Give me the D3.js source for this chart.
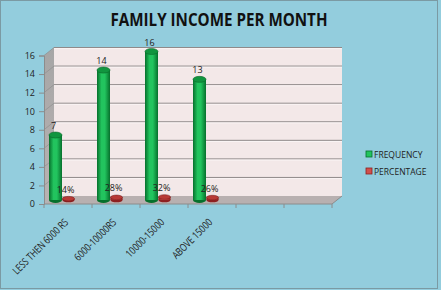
<!DOCTYPE html>
<html>
<head>
<meta charset="utf-8">
<script src="https://cdn.jsdelivr.net/npm/d3@7"></script>
<style>
  html, body { margin: 0; padding: 0; background: #93cddd; }
  svg { display: block; }
  text { font-family: "Open Sans", "Noto Sans", sans-serif; }
</style>
</head>
<body>
<svg id="chart" width="441" height="290"></svg>
<script>
// ---- data ----
const title = "FAMILY INCOME PER MONTH";
const categories = ["LESS THEN 6000 RS", "6000-10000RS", "10000-15000", "ABOVE 15000"];
const slotCount = 6; // category slots on the axis (last two empty)
const frequency = [7, 14, 16, 13];
const percentage = [14, 28, 32, 26]; // shown as %, plotted as fractions on same axis
const seriesNames = ["FREQUENCY", "PERCENTAGE"];
const yTicks = [0, 2, 4, 6, 8, 10, 12, 14, 16];

// ---- layout ----
const W = 441, H = 290;
const svg = d3.select("#chart");
const depthX = 10, depthY = -8;

const x = d3.scaleBand().domain(d3.range(slotCount)).range([44, 332]).padding(0);
const y = d3.scaleLinear().domain([0, 16]).range([204, 55.5]);
const sub = d3.scaleBand().domain(seriesNames).range([5, 31]).padding(0);

const colors = {
  FREQUENCY: { mid: "#22c45e", edge: "#06702c", top: "#11953f", topStroke: "#0a6a2a" },
  PERCENTAGE: { mid: "#d0504c", edge: "#8e2020", top: "#b83a36", topStroke: "#7d1c1c" }
};

const defs = svg.append("defs");
seriesNames.forEach((s, i) => {
  const g = defs.append("linearGradient").attr("id", "grad" + i).attr("x1", "0").attr("x2", "1").attr("y1", "0").attr("y2", "0");
  g.append("stop").attr("offset", "0%").attr("stop-color", colors[s].edge);
  g.append("stop").attr("offset", "35%").attr("stop-color", colors[s].mid);
  g.append("stop").attr("offset", "60%").attr("stop-color", colors[s].mid);
  g.append("stop").attr("offset", "100%").attr("stop-color", colors[s].edge);
});
const wallGrad = defs.append("linearGradient").attr("id", "wallGrad").attr("x1", "0").attr("x2", "0").attr("y1", "0").attr("y2", "1");
wallGrad.append("stop").attr("offset", "0%").attr("stop-color", "#a6a6a6");
wallGrad.append("stop").attr("offset", "100%").attr("stop-color", "#b9b2b2");

// background + border
svg.append("rect").attr("x", 0.5).attr("y", 0.5).attr("width", W - 4).attr("height", H - 2)
  .attr("fill", "#93cddd").attr("stroke", "#7b9aa3").attr("stroke-width", 1);

// title
svg.append("text").attr("x", 219).attr("y", 26).attr("text-anchor", "middle")
  .attr("font-size", 17).attr("font-weight", "bold").attr("fill", "#111")
  .attr("textLength", 217).attr("lengthAdjust", "spacingAndGlyphs")
  .text(title);

const x0 = x.range()[0], x1 = x.range()[1];
// back wall
svg.append("rect").attr("x", x0 + depthX).attr("y", y(16) + depthY)
  .attr("width", x1 - x0).attr("height", y(0) - y(16))
  .attr("fill", "#f3e8e8");
// left wall
svg.append("polygon")
  .attr("points", [[x0, y(0)], [x0, y(16)], [x0 + depthX, y(16) + depthY], [x0 + depthX, y(0) + depthY]].join(" "))
  .attr("fill", "url(#wallGrad)");
// floor
svg.append("polygon")
  .attr("points", [[x0, y(0)], [x1, y(0)], [x1 + depthX, y(0) + depthY], [x0 + depthX, y(0) + depthY]].join(" "))
  .attr("fill", "#b8b0b0");
svg.append("polyline")
  .attr("points", [[x0, y(0)], [x1, y(0)], [x1 + depthX, y(0) + depthY]].join(" "))
  .attr("fill", "none").attr("stroke", "#8c8c8c").attr("stroke-width", 1);

// gridlines on back and left wall
yTicks.filter(v => v > 0).forEach(v => {
  svg.append("line").attr("x1", x0 + depthX).attr("x2", x1 + depthX)
    .attr("y1", y(v) + depthY).attr("y2", y(v) + depthY)
    .attr("stroke", "#8f8a8a").attr("stroke-width", 1);
  svg.append("line").attr("x1", x0 + depthX).attr("x2", x1 + depthX)
    .attr("y1", y(v) + depthY + 1.2).attr("y2", y(v) + depthY + 1.2)
    .attr("stroke", "#fbf6f6").attr("stroke-width", 0.8);
  svg.append("line").attr("x1", x0).attr("x2", x0 + depthX)
    .attr("y1", y(v)).attr("y2", y(v) + depthY)
    .attr("stroke", "#8a8a8a").attr("stroke-width", 0.6);
});

// y axis
const yAxis = svg.append("g").attr("transform", `translate(${x0},0)`)
  .call(d3.axisLeft(y).tickValues(yTicks).tickSize(5).tickPadding(4));
yAxis.select(".domain").attr("stroke", "#8c8c8c");
yAxis.selectAll(".tick line").attr("stroke", "#8c8c8c");
yAxis.selectAll("text").attr("font-size", 9).attr("fill", "#222").style("font-family", "'Open Sans', sans-serif");

// x axis ticks (category boundaries)
const bounds = d3.range(slotCount + 1).map(i => x0 + i * x.bandwidth());
svg.selectAll(".xtick").data(bounds).enter().append("line")
  .attr("x1", d => d).attr("x2", d => d).attr("y1", y(0)).attr("y2", y(0) + 4)
  .attr("stroke", "#8c8c8c");

// x labels (condensed via horizontal scale to mimic a narrow face)
svg.selectAll(".xlab").data(categories).enter().append("text")
  .attr("transform", (d, i) => `translate(${x(i) + x.bandwidth() / 2 + 1},${y(0) + 19}) rotate(-45) scale(0.78,1)`)
  .attr("text-anchor", "end").attr("font-size", 10.5).attr("fill", "#222")
  .text(d => d);

// cylinders
function drawCyl(g, cx, w, ry, yTop, yBot, s, gi) {
  const rx = w / 2;
  g.append("ellipse").attr("cx", cx).attr("cy", yBot).attr("rx", rx).attr("ry", ry)
    .attr("fill", colors[s].edge);
  g.append("rect").attr("x", cx - rx).attr("y", yTop).attr("width", w).attr("height", Math.max(0, yBot - yTop))
    .attr("fill", `url(#grad${gi})`);
  g.append("ellipse").attr("cx", cx).attr("cy", yTop).attr("rx", rx).attr("ry", ry)
    .attr("fill", colors[s].top).attr("stroke", colors[s].topStroke).attr("stroke-width", 0.6);
}

const barsG = svg.append("g");
categories.forEach((c, i) => {
  const slotX = x(i);
  const base = y(0) + depthY / 2;
  // frequency
  const fcx = slotX + sub("FREQUENCY") + sub.bandwidth() / 2;
  const fTop = y(frequency[i]) + depthY / 2;
  drawCyl(barsG, fcx, sub.bandwidth(), 3, fTop, base, "FREQUENCY", 0);
  barsG.append("text").attr("x", fcx - 2).attr("y", fTop - 6).attr("text-anchor", "middle")
    .attr("font-size", 9).attr("fill", "#222").text(frequency[i]);
  // percentage
  const pcx = slotX + sub("PERCENTAGE") + sub.bandwidth() / 2;
  const pTop = y(percentage[i] / 100) + depthY / 2;
  drawCyl(barsG, pcx, sub.bandwidth() - 1, 2.3, pTop, base, "PERCENTAGE", 1);
  barsG.append("text").attr("x", pcx - 3).attr("y", pTop - 6).attr("text-anchor", "middle")
    .attr("font-size", 9).attr("fill", "#222").text(percentage[i] + "%");
});

// legend
const legend = svg.append("g");
seriesNames.forEach((s, i) => {
  const ly = 151 + i * 17;
  legend.append("rect").attr("x", 366).attr("y", ly).attr("width", 6).attr("height", 6)
    .attr("fill", colors[s].mid).attr("stroke", colors[s].edge).attr("stroke-width", 0.8);
  legend.append("text").attr("x", 374).attr("y", ly + 6.5).attr("font-size", 8.5).attr("fill", "#222").text(s);
});
</script>
</body>
</html>
